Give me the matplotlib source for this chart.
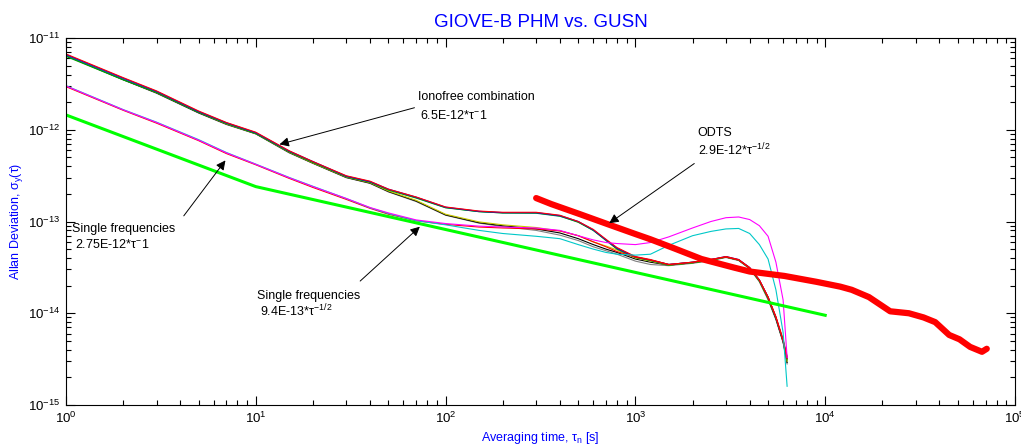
import matplotlib
matplotlib.use("Agg")
import matplotlib.pyplot as plt
from matplotlib.ticker import LogLocator, NullFormatter

plt.rcParams['font.family'] = ['Liberation Sans', 'DejaVu Sans']
plt.rcParams['mathtext.default'] = 'regular'

# averaging times of the GUSN curves [s]
tau = [1, 2, 3, 5, 7, 10, 15, 20, 30, 40, 50, 70, 100, 150, 200, 300, 400, 500,
       600, 700, 800, 1000, 1200, 1500, 2000, 2500, 3000, 3500, 4000, 4500,
       5000, 5500, 6000, 6300]

# ionofree combination curves
iono_red = [6.7e-12, 3.7e-12, 2.65e-12, 1.6e-12, 1.2e-12, 9.4e-13, 5.9e-13, 4.5e-13, 3.15e-13,
            2.75e-13, 2.25e-13, 1.85e-13, 1.44e-13, 1.30e-13, 1.26e-13, 1.26e-13, 1.17e-13, 1.0e-13,
            8.2e-14, 6.4e-14, 5.2e-14, 4.15e-14, 3.85e-14, 3.4e-14, 3.6e-14, 3.85e-14, 4.15e-14,
            3.85e-14, 3.15e-14, 2.3e-14, 1.5e-14, 9.2e-15, 5.2e-15, 3.4e-15]
iono_blue = [6.6e-12, 3.65e-12, 2.62e-12, 1.58e-12, 1.19e-12, 9.3e-13, 5.85e-13, 4.5e-13, 3.12e-13,
             2.72e-13, 2.25e-13, 1.84e-13, 1.43e-13, 1.29e-13, 1.25e-13, 1.25e-13, 1.16e-13, 1.0e-13,
             8.1e-14, 6.3e-14, 5.1e-14, 4.1e-14, 3.8e-14, 3.4e-14, 3.6e-14, 3.85e-14, 4.15e-14,
             3.85e-14, 3.15e-14, 2.3e-14, 1.5e-14, 9.0e-15, 5.0e-15, 3.3e-15]
iono_green = [6.3e-12, 3.5e-12, 2.55e-12, 1.55e-12, 1.17e-12, 9.1e-13, 5.75e-13, 4.4e-13, 3.08e-13,
              2.68e-13, 2.2e-13, 1.8e-13, 1.41e-13, 1.28e-13, 1.24e-13, 1.24e-13, 1.15e-13, 9.8e-14,
              8.0e-14, 6.2e-14, 5.0e-14, 4.05e-14, 3.75e-14, 3.35e-14, 3.55e-14, 3.8e-14, 4.1e-14,
              3.8e-14, 3.1e-14, 2.25e-14, 1.45e-14, 8.8e-15, 4.9e-15, 3.1e-15]
iono_teal = [6.45e-12, 3.55e-12, 2.58e-12, 1.56e-12, 1.18e-12, 9.2e-13, 5.8e-13, 4.45e-13, 3.1e-13,
             2.7e-13, 2.22e-13, 1.82e-13, 1.42e-13, 1.28e-13, 1.24e-13, 1.23e-13, 1.14e-13, 9.9e-14,
             8.0e-14, 6.3e-14, 5.1e-14, 4.1e-14, 3.8e-14, 3.4e-14, 3.6e-14, 3.85e-14, 4.1e-14,
             3.8e-14, 3.1e-14, 2.3e-14, 1.5e-14, 9.0e-15, 5.1e-15, 3.2e-15]
iono_yellow = [6.5e-12, 3.55e-12, 2.55e-12, 1.55e-12, 1.16e-12, 9.1e-13, 5.7e-13, 4.35e-13, 3.05e-13,
               2.65e-13, 2.15e-13, 1.7e-13, 1.2e-13, 9.9e-14, 9.2e-14, 8.6e-14, 7.9e-14, 7.0e-14,
               6.0e-14, 5.4e-14, 4.9e-14, 4.0e-14, 3.7e-14, 3.35e-14, 3.55e-14, 3.8e-14, 4.1e-14,
               3.8e-14, 3.1e-14, 2.25e-14, 1.45e-14, 9.0e-15, 5.0e-15, 3.0e-15]
iono_gray = [6.4e-12, 3.5e-12, 2.5e-12, 1.52e-12, 1.14e-12, 9.0e-13, 5.6e-13, 4.3e-13, 3.0e-13,
             2.6e-13, 2.1e-13, 1.65e-13, 1.17e-13, 9.6e-14, 8.8e-14, 8.0e-14, 7.1e-14, 6.2e-14,
             5.3e-14, 4.8e-14, 4.4e-14, 3.7e-14, 3.4e-14, 3.3e-14, 3.5e-14, 3.75e-14, 4.05e-14,
             3.75e-14, 3.05e-14, 2.2e-14, 1.4e-14, 8.5e-15, 4.8e-15, 2.8e-15]
iono_black = [6.45e-12, 3.52e-12, 2.52e-12, 1.53e-12, 1.15e-12, 9.05e-13, 5.65e-13, 4.32e-13, 3.02e-13,
              2.62e-13, 2.12e-13, 1.67e-13, 1.18e-13, 9.7e-14, 9.0e-14, 8.3e-14, 7.5e-14, 6.5e-14,
              5.6e-14, 5.0e-14, 4.6e-14, 3.9e-14, 3.6e-14, 3.35e-14, 3.55e-14, 3.8e-14, 4.1e-14,
              3.8e-14, 3.1e-14, 2.25e-14, 1.45e-14, 8.7e-15, 4.9e-15, 2.9e-15]

# single frequency curves
single_magenta = [3.0e-12, 1.65e-12, 1.2e-12, 7.7e-13, 5.6e-13, 4.2e-13, 3.0e-13, 2.4e-13, 1.78e-13,
                  1.42e-13, 1.24e-13, 1.04e-13, 9.5e-14, 8.9e-14, 8.7e-14, 8.5e-14, 8.0e-14, 7.0e-14,
                  6.3e-14, 5.9e-14, 5.75e-14, 5.6e-14, 5.9e-14, 6.8e-14, 8.5e-14, 1.0e-13, 1.1e-13,
                  1.12e-13, 1.05e-13, 9.0e-14, 6.9e-14, 3.6e-14, 1.4e-14, 3.3e-15]
single_cyan = [3.02e-12, 1.66e-12, 1.21e-12, 7.8e-13, 5.65e-13, 4.22e-13, 3.02e-13, 2.42e-13, 1.78e-13,
               1.41e-13, 1.22e-13, 1.02e-13, 9.2e-14, 8.0e-14, 7.4e-14, 6.9e-14, 6.5e-14, 5.6e-14,
               5.0e-14, 4.6e-14, 4.4e-14, 4.3e-14, 4.4e-14, 5.5e-14, 7.0e-14, 7.8e-14, 8.3e-14,
               8.4e-14, 7.4e-14, 5.6e-14, 3.9e-14, 1.8e-14, 6.2e-15, 1.6e-15]
single_red = [2.95e-12, 1.63e-12, 1.18e-12, 7.6e-13, 5.5e-13, 4.15e-13, 2.95e-13, 2.35e-13, 1.74e-13,
              1.39e-13, 1.2e-13, 1.02e-13, 9.3e-14, 8.7e-14, 8.5e-14, 8.3e-14, 7.9e-14, 7.0e-14,
              6.0e-14, 5.3e-14, 4.7e-14, 4.1e-14, 3.8e-14, 3.4e-14, 3.6e-14, 3.85e-14, 4.1e-14,
              3.8e-14, 3.1e-14, 2.3e-14, 1.5e-14, 9.0e-15, 5.0e-15, 3.2e-15]

# reference slopes (green)
ref_tau = [1, 10, 10000]
ref_adev = [1.45e-12, 2.4e-13, 9.5e-15]

# ODTS clock estimate
odts_tau = [300, 360, 500, 720, 1000, 1200, 1600, 2230, 3300, 4000, 6100, 9000, 12000, 13800,
            17000, 22000, 27600, 33000, 38000, 45000, 51000, 58000, 67000, 71000]
odts_adev = [1.8e-13, 1.55e-13, 1.22e-13, 9.3e-14, 7.3e-14, 6.4e-14, 5.1e-14, 3.9e-14, 3.15e-14,
             2.85e-14, 2.55e-14, 2.2e-14, 1.95e-14, 1.8e-14, 1.5e-14, 1.05e-14, 1.0e-14, 9.0e-15,
             8.0e-15, 5.8e-15, 5.2e-15, 4.3e-15, 3.8e-15, 4.1e-15]

fig = plt.figure(figsize=(10.21, 4.46), dpi=100)
ax = fig.add_axes([66 / 1021, 41 / 446, 949 / 1021, 367 / 446])

curves = [
    (iono_gray, "#808080"), (iono_black, "black"), (iono_yellow, "#c8c800"),
    (iono_teal, "#008080"), (iono_green, "#00a000"), (iono_blue, "blue"), (iono_red, "red"),
    (single_red, "red"), (single_cyan, "#00c8c8"), (single_magenta, "magenta"),
]
for vals, c in curves:
    ax.plot(tau, vals, color=c, lw=0.8)

ax.plot(ref_tau, ref_adev, color="#00ff00", lw=2.2)
ax.plot(odts_tau, odts_adev, color="red", lw=4.5, solid_capstyle="round")

ax.set_xscale("log")
ax.set_yscale("log")
ax.set_xlim(1, 1e5)
ax.set_ylim(1e-15, 1e-11)
ax.xaxis.set_minor_locator(LogLocator(base=10, subs=range(2, 10)))
ax.yaxis.set_minor_locator(LogLocator(base=10, subs=range(2, 10)))
ax.xaxis.set_minor_formatter(NullFormatter())
ax.yaxis.set_minor_formatter(NullFormatter())
ax.tick_params(which="both", direction="in", top=True, right=True, labelsize=9.5, pad=4)
ax.tick_params(which="major", length=6.5, width=0.8)
ax.tick_params(which="minor", length=3.6, width=0.8)
for s in ax.spines.values():
    s.set_linewidth(0.8)

ax.set_title("GIOVE-B PHM vs. GUSN", color="blue", fontsize=13.5, pad=8)
ax.set_xlabel("Averaging time, τ$_n$ [s]", color="blue", fontsize=9, labelpad=3)
ax.set_ylabel("Allan Deviation, σ$_y$(τ)", color="blue", fontsize=9, labelpad=2)

arrow = dict(arrowstyle="-|>", color="black", lw=0.7, mutation_scale=14)
tfont = dict(fontsize=9, va="center", ha="left")

ax.annotate("", xy=(12.9, 6.8e-13), xytext=(70.8, 1.77e-12), arrowprops=arrow)
ax.text(71.6, 2.27e-12, "Ionofree combination", **tfont)
ax.text(73.5, 1.44e-12, "6.5E-12*τ$^{-}$1", **tfont)

ax.annotate("", xy=(708, 9.2e-14), xytext=(2100, 4.46e-13), arrowprops=arrow)
ax.text(2130, 9.2e-13, "ODTS", **tfont)
ax.text(2150, 6.0e-13, "2.9E-12*τ$^{-1/2}$", **tfont)

ax.annotate("", xy=(7.06, 4.9e-13), xytext=(4.09, 1.09e-13), arrowprops=arrow)
ax.text(1.07, 8.3e-14, "Single frequencies", **tfont)
ax.text(1.12, 5.6e-14, "2.75E-12*τ$^{-}$1", **tfont)

ax.annotate("", xy=(75, 9.2e-14), xytext=(34.6, 2.14e-14), arrowprops=arrow)
ax.text(10.1, 1.55e-14, "Single frequencies", **tfont)
ax.text(10.5, 1.05e-14, "9.4E-13*τ$^{-1/2}$", **tfont)

fig.savefig("out.png", dpi=100)
